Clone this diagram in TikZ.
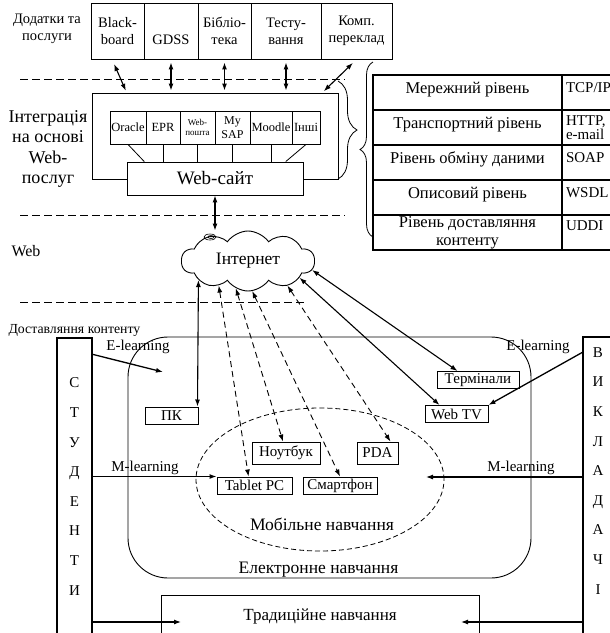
\documentclass[tikz,border=0pt]{standalone}
\usepackage{fontspec}
\setmainfont{Liberation Serif}
\usetikzlibrary{shapes.symbols,shapes.geometric,arrows.meta,calc,decorations.pathreplacing}

\tikzset{
  appbox/.style={draw, line width=0.9pt, minimum height=56pt, align=center, inner sep=1pt, font=\fontsize{14.5}{17}\selectfont},
  svcbox/.style={draw, line width=0.9pt, minimum height=33pt, align=center, inner sep=0.5pt, font=\fontsize{12.5}{13}\selectfont},
  cellbox/.style={draw, line width=1.2pt, minimum height=35pt, outer sep=0pt, align=center, font=\fontsize{16.5}{18}\selectfont},
  raised/.style={text depth=9pt},
  protobox/.style={cellbox, minimum width=88pt, text width=80pt, align=left, font=\fontsize{15}{12}\selectfont},
  devbox/.style={draw, line width=1pt, minimum height=17pt, inner sep=1.5pt, font=\fontsize{15}{17}\selectfont},
  sidebox/.style={draw, line width=1.3pt, minimum height=330pt},
  lettercol/.style={align=center, font=\fontsize{15}{29.6}\selectfont},
  txt/.style={font=\fontsize{15}{18}\selectfont},
  sepline/.style={dash pattern=on 8pt off 4pt, line width=0.8pt},
  link/.style={<->, line width=1.1pt},
  dlink/.style={<->, line width=0.9pt, dash pattern=on 6pt off 4pt},
  >={Latex[length=7pt,width=5pt]}
}

\begin{document}
\begin{tikzpicture}[x=1pt,y=-1pt]
    \useasboundingbox (0,0) rectangle (610,633);

    % Applications and services
    \node[align=center, font=\fontsize{14.5}{17}\selectfont] (apps) at (47,29) {Додатки та\\послуги};
    \node[appbox, minimum width=53pt] (bb) at (117.5,31) {Black-\\board};
    \node[appbox, minimum width=54pt] (gdss) at (171,31) {\vphantom{B}\\GDSS};
    \node[appbox, minimum width=53pt] (lib) at (224.5,31) {Бібліо-\\тека};
    \node[appbox, minimum width=70pt] (test) at (286,31) {Тесту-\\вання};
    \node[appbox, minimum width=71pt] (trans) at (356.5,31) {Комп.\\переклад};

    % Separators
    \draw[sepline] (20,79) -- (345,79);
    \draw[sepline] (20,215) -- (345,215);
    \draw[sepline] (20,302) -- (305,302);

    % Integration on Web services
    \node[align=center, font=\fontsize{18}{20.5}\selectfont] (intlbl) at (48,149) {Інтеграція\\на основі\\Web-\\послуг};
    \node[draw, line width=0.9pt, minimum width=246pt, minimum height=86pt] (intg) at (215,136) {};
    \node[svcbox, minimum width=36pt] (oracle) at (128,127.5) {Oracle};
    \node[svcbox, minimum width=34pt] (epr) at (163,127.5) {EPR};
    \node[svcbox, minimum width=35pt, font=\fontsize{9}{10.5}\selectfont] (mail) at (197.5,127.5) {Web-\\пошта};
    \node[svcbox, minimum width=35pt, font=\fontsize{12}{13.5}\selectfont] (sap) at (232.5,127.5) {My\\SAP};
    \node[svcbox, minimum width=42pt] (moodle) at (271,127.5) {Moodle};
    \node[svcbox, minimum width=28pt] (other) at (306,127.5) {Інші};
    \node[draw, fill=white, line width=0.9pt, minimum width=176pt, minimum height=33pt, font=\fontsize{19}{21}\selectfont] (site) at (215,178.5) {Web-сайт};

    \draw[line width=0.8pt] (oracle.south) -- ($(site.north west)!0.1!(site.north east)$);
    \foreach \s in {epr,mail,sap,moodle}
        \draw[line width=0.8pt] (\s.south) -- (\s.south |- site.north);
    \draw[line width=0.8pt] (other.south) -- ($(site.north west)!0.9!(site.north east)$);

    \draw[link, shorten <=5pt, shorten >=2pt] ($(bb.south west)!0.4!(bb.south east)$) -- ($(intg.north west)!0.142!(intg.north east)$);
    \foreach \a in {gdss,lib,test}
        \draw[link, shorten <=3pt, shorten >=2pt] (\a.south) -- (\a.south |- intg.north);
    \draw[link, shorten <=5pt, shorten >=2pt] (trans.south) -- ($(intg.north west)!0.935!(intg.north east)$);

    % Braces
    \draw[line width=0.8pt, decorate, decoration={brace, amplitude=19pt}] (338,81) -- (338,179);
    \draw[line width=0.8pt, decorate, decoration={brace, amplitude=13pt}] (373,237) -- (373,62);

    % Protocol stack
    \node[cellbox, raised, minimum width=189pt] (l1) at (467.5,92.5) {Мережний рівень};
    \node[cellbox, raised, minimum width=189pt] (l2) at (467.5,127.5) {Транспортний рівень};
    \node[cellbox, raised, minimum width=189pt] (l3) at (467.5,162.5) {Рівень обміну даними};
    \node[cellbox, raised, minimum width=189pt] (l4) at (467.5,197.5) {Описовий рівень};
    \node[cellbox, inner ysep=0pt, minimum width=189pt] (l5) at (467.5,232.5) {Рівень доставляння\\контенту};
    \node[protobox, raised] (p1) at (606,92.5) {TCP/IP};
    \node[protobox] (p2) at (606,127.5) {HTTP,\\e-mail};
    \node[protobox, raised] (p3) at (606,162.5) {SOAP};
    \node[protobox, raised] (p4) at (606,197.5) {WSDL};
    \node[protobox, text depth=13pt] (p5) at (606,232.5) {UDDI};

    % Internet
    \node[font=\fontsize{16}{18}\selectfont] (weblbl) at (26,251) {Web};
    \node[cloud, draw, line width=0.9pt, cloud puffs=10, cloud puff arc=110, cloud ignores aspect,
          minimum width=133pt, minimum height=60pt, inner sep=0pt, font=\fontsize{17.5}{20}\selectfont] (inet) at (248,261) {Інтернет};
    \draw[line width=0.6pt] (210,237) ellipse (6pt and 3pt);
    \draw[line width=0.6pt] (211,237) ellipse (3pt and 1.5pt);
    \draw[link] (site.south) -- (site.south |- inet.north);

    % Content delivery
    \node[anchor=west, font=\fontsize{13.8}{15}\selectfont] (deliv) at (5,330) {Доставляння контенту};
    \node[sidebox, minimum width=35pt] (stud) at (74.5,503) {};
    \node[lettercol, anchor=north] (studtxt) at ([yshift=-37pt]stud.north) {С\\Т\\У\\Д\\Е\\Н\\Т\\И};
    \node[sidebox, minimum width=30pt] (vykl) at (598,502) {};
    \node[lettercol, anchor=north] (vykltxt) at ([yshift=-7.5pt]vykl.north) {В\\И\\К\\Л\\А\\Д\\А\\Ч\\І};

    \node[draw, line width=0.9pt, rounded corners=40pt, minimum width=403pt, minimum height=241pt] (elearn) at (329.5,457.5) {};
    \node[anchor=south, inner sep=1pt, font=\fontsize{17.5}{19}\selectfont] (eltxt) at ([xshift=-11pt]elearn.south) {Електронне навчання};
    \node[draw, ellipse, dash pattern=on 5pt off 3pt, line width=0.8pt, minimum width=248pt, minimum height=143pt] (mob) at (320,479.5) {};
    \node[font=\fontsize{17.5}{19}\selectfont] (mobtxt) at (322,524) {Мобільне навчання};
    \node[draw, line width=0.9pt, minimum width=318pt, minimum height=60pt] (trad) at (320,625) {};
    \node[font=\fontsize{17}{19}\selectfont] (tradtxt) at ([yshift=-22pt]trad.north) {Традиційне навчання};

    \node[txt] (el1) at (138,347) {E-learning};
    \node[txt] (el2) at (538,347) {E-learning};
    \node[txt] (ml1) at (145,468) {M-learning};
    \node[txt] (ml2) at (521,468) {M-learning};

    % Devices
    \node[devbox, minimum width=53pt] (pk) at (171.5,415.5) {ПК};
    \node[devbox, minimum width=82pt] (term) at (478,380) {Термінали};
    \node[devbox, minimum width=63pt] (webtv) at (456.5,414) {Web TV};
    \node[devbox, minimum width=68pt, minimum height=22pt] (note) at (286,453) {Ноутбук};
    \node[devbox, minimum width=41pt, minimum height=22pt] (pda) at (377.5,453) {PDA};
    \node[devbox, minimum width=75pt] (tablet) at (254.5,485.5) {Tablet PC};
    \node[devbox, minimum width=74pt] (smart) at (340,485.5) {Смартфон};

    % Access links
    \draw[link] (inet.201) -- ([xshift=-1pt]pk.north east);
    \draw[dlink] (inet.220) -- ([xshift=-6pt]tablet.north);
    \draw[dlink] (inet.246) -- ([xshift=-3pt]note.north);
    \draw[dlink] (inet.278) -- (smart.north);
    \draw[dlink] (inet.328) -- ([xshift=-8pt]pda.north east);
    \draw[link] (inet.342) -- ([xshift=15pt]webtv.north west);
    \draw[link] (inet.352) -- ([xshift=21pt]term.north west);

    % Learners and teachers
    \coordinate (ein) at (163,372);
    \coordinate (mr) at (426,477);
    \coordinate (tl) at (181,622);
    \coordinate (tr) at (461,622);
    \draw[->, line width=1.3pt] ([yshift=-17pt]stud.north east) -- (ein);
    \draw[->, line width=1.3pt] ([yshift=-16pt]vykl.north west) -- (webtv.north east);
    \draw[->, line width=1.1pt] (stud.east |- tablet.north) -- (tablet.north west);
    \draw[->, line width=1.1pt] (vykl.west |- mr) -- (mr);
    \draw[->, line width=1.1pt] (stud.east |- tl) -- (tl);
    \draw[->, line width=1.1pt] (vykl.west |- tr) -- (tr);
\end{tikzpicture}
\end{document}
